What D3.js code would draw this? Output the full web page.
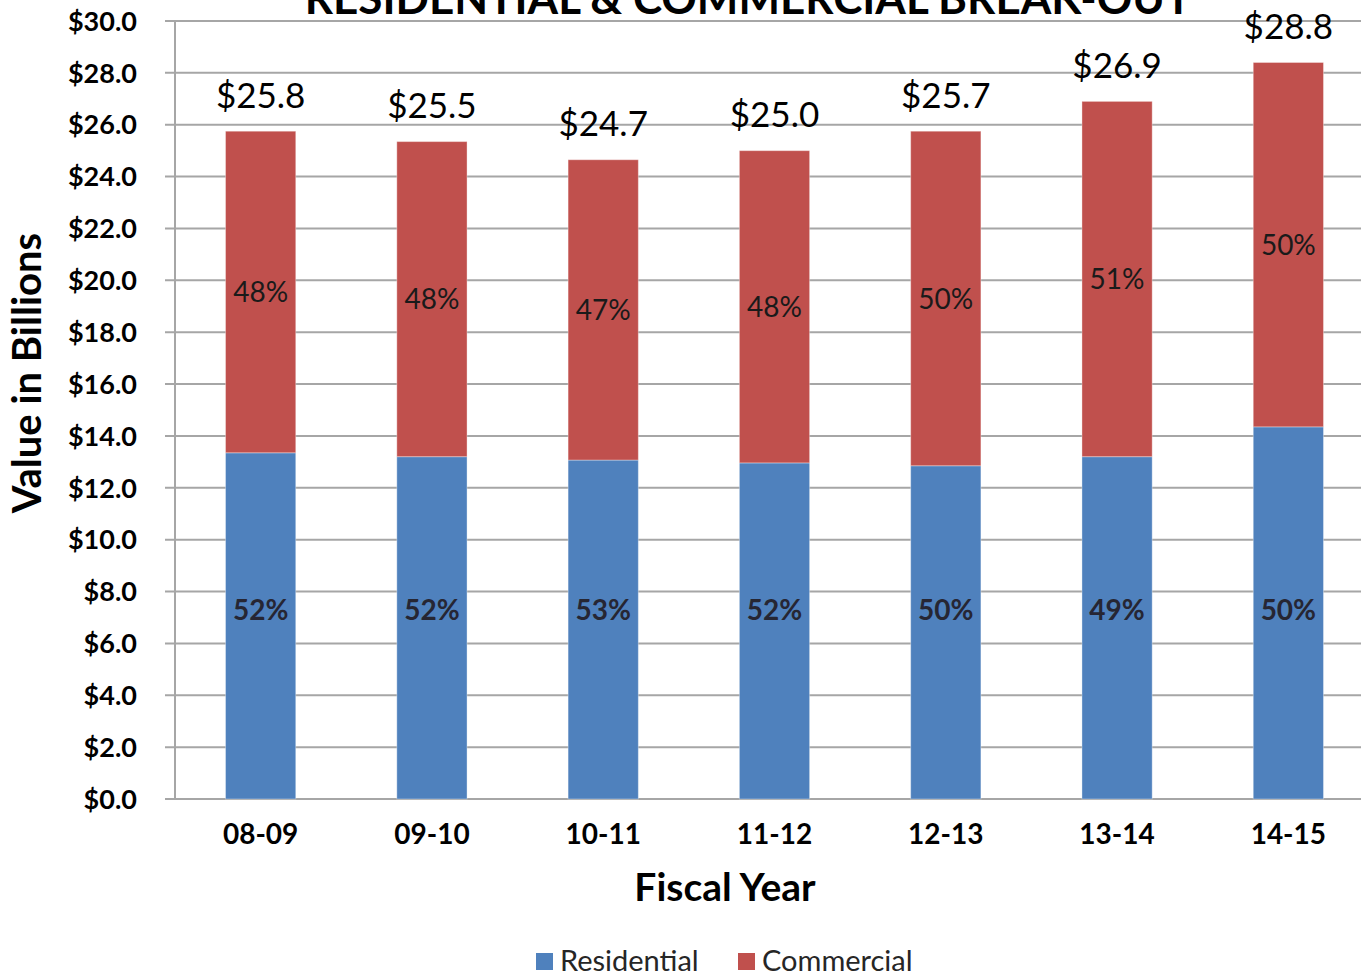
<!DOCTYPE html>
<html lang="en">
<head>
    <meta charset="UTF-8">
    <title>Residential & Commercial Break-Out</title>
    <script src="https://d3js.org/d3.v7.min.js"></script>
    <style>
        body { margin: 0; background: #fff; }
        svg text { font-family: Lato, "Noto Sans", sans-serif; fill: #000; }
    </style>
</head>
<body>
    <div id="chart"></div>

    <script>
        // Values (billions of dollars)
        const years = ['08-09', '09-10', '10-11', '11-12', '12-13', '13-14', '14-15'];
        const residential = [13.35, 13.2, 13.07, 12.96, 12.85, 13.2, 14.35];
        const totals = [25.75, 25.35, 24.65, 25.0, 25.75, 26.9, 28.4];
        const totalLabels = ['$25.8', '$25.5', '$24.7', '$25.0', '$25.7', '$26.9', '$28.8'];
        const resPct = ['52%', '52%', '53%', '52%', '50%', '49%', '50%'];
        const comPct = ['48%', '48%', '47%', '48%', '50%', '51%', '50%'];
        const yTicks = [0, 2, 4, 6, 8, 10, 12, 14, 16, 18, 20, 22, 24, 26, 28, 30];

        const commercial = totals.map((t, i) => t - residential[i]);
        const rows = years.map((y, i) => ({ year: y, Residential: residential[i], Commercial: commercial[i], i }));

        const width = 1361, height = 974;
        const plot = { left: 175, top: 21, bottom: 799, right: 1374 };

        const svg = d3.select('#chart').append('svg')
            .attr('width', width)
            .attr('height', height);

        const x = d3.scaleBand().domain(years).range([plot.left, plot.right]).paddingInner(0.59).paddingOuter(0.295);
        const y = d3.scaleLinear().domain([0, 30]).range([plot.bottom, plot.top]);

        // gridlines
        svg.append('g')
            .selectAll('line')
            .data(yTicks)
            .join('line')
            .attr('x1', plot.left - 10)
            .attr('x2', width)
            .attr('y1', d => y(d))
            .attr('y2', d => y(d))
            .style('stroke', '#a6a6a6')
            .style('stroke-width', 2);

        // y axis line
        svg.append('line')
            .attr('x1', plot.left).attr('x2', plot.left)
            .attr('y1', plot.top).attr('y2', plot.bottom)
            .style('stroke', '#a6a6a6')
            .style('stroke-width', 2);

        // y tick labels
        svg.append('g')
            .selectAll('text')
            .data(yTicks)
            .join('text')
            .attr('x', 137)
            .attr('y', d => y(d))
            .attr('dy', '0.36em')
            .attr('text-anchor', 'end')
            .style('font-size', '27px')
            .style('font-weight', 'bold')
            .text(d => '$' + d.toFixed(1));

        // stacked bars
        const stack = d3.stack().keys(['Residential', 'Commercial'])(rows);
        const colors = { Residential: '#4f81bd', Commercial: '#c0504d' };

        svg.append('g')
            .selectAll('g')
            .data(stack)
            .join('g')
            .style('fill', d => colors[d.key])
            .selectAll('rect')
            .data(d => d)
            .join('rect')
            .attr('x', d => x(d.data.year))
            .attr('width', x.bandwidth())
            .attr('y', d => y(d[1]))
            .attr('height', d => y(d[0]) - y(d[1]))
            .style('stroke', 'rgba(255,255,255,0.35)')
            .style('stroke-width', 1);

        // percentage labels (residential ones sit at a common height, as in the source)
        svg.append('g')
            .selectAll('text')
            .data(stack[0])
            .join('text')
            .attr('x', d => x(d.data.year) + x.bandwidth() / 2)
            .attr('y', d => Math.min(y(7.3), (y(d[0]) + y(d[1])) / 2))
            .attr('dy', '0.36em')
            .attr('text-anchor', 'middle')
            .style('font-size', '28px')
            .style('font-weight', 'bold')
            .style('fill', '#262633')
            .text(d => resPct[d.data.i]);

        svg.append('g')
            .selectAll('text')
            .data(stack[1])
            .join('text')
            .attr('x', d => x(d.data.year) + x.bandwidth() / 2)
            .attr('y', d => (y(d[0]) + y(d[1])) / 2)
            .attr('dy', '0.36em')
            .attr('text-anchor', 'middle')
            .style('font-size', '28px')
            .style('fill', '#1a1a1a')
            .text(d => comPct[d.data.i]);

        // total labels
        svg.append('g')
            .selectAll('text')
            .data(rows)
            .join('text')
            .attr('x', d => x(d.year) + x.bandwidth() / 2)
            .attr('y', d => y(totals[d.i]) - 36)
            .attr('dy', '0.36em')
            .attr('text-anchor', 'middle')
            .style('font-size', '35px')
            .text(d => totalLabels[d.i]);

        // x tick labels
        svg.append('g')
            .selectAll('text')
            .data(years)
            .join('text')
            .attr('x', d => x(d) + x.bandwidth() / 2)
            .attr('y', 834)
            .attr('dy', '0.36em')
            .attr('text-anchor', 'middle')
            .style('font-size', '28px')
            .style('font-weight', 'bold')
            .text(d => d);

        // titles
        svg.append('text')
            .attr('x', 748).attr('y', 14)
            .attr('text-anchor', 'middle')
            .style('font-size', '44px')
            .style('font-weight', 'bold')
            .text('RESIDENTIAL & COMMERCIAL BREAK-OUT');

        svg.append('text')
            .attr('x', 725).attr('y', 887)
            .attr('dy', '0.36em')
            .attr('text-anchor', 'middle')
            .style('font-size', '39px')
            .style('font-weight', 'bold')
            .text('Fiscal Year');

        svg.append('text')
            .attr('transform', 'translate(27,373) rotate(-90)')
            .attr('dy', '0.36em')
            .attr('text-anchor', 'middle')
            .style('font-size', '40px')
            .style('font-weight', 'bold')
            .text('Value in Billions');

        // legend
        const legend = svg.append('g')
            .selectAll('g')
            .data(['Residential', 'Commercial'])
            .join('g')
            .attr('transform', (d, i) => `translate(${536 + i * 202}, 961)`);

        legend.append('rect')
            .attr('x', 0).attr('y', -8)
            .attr('width', 17).attr('height', 17)
            .style('fill', d => colors[d]);

        legend.append('text')
            .attr('x', 24)
            .attr('y', 0)
            .attr('dy', '0.36em')
            .style('font-size', '29px')
            .style('fill', '#262626')
            .text(d => d);
    </script>
</body>
</html>
